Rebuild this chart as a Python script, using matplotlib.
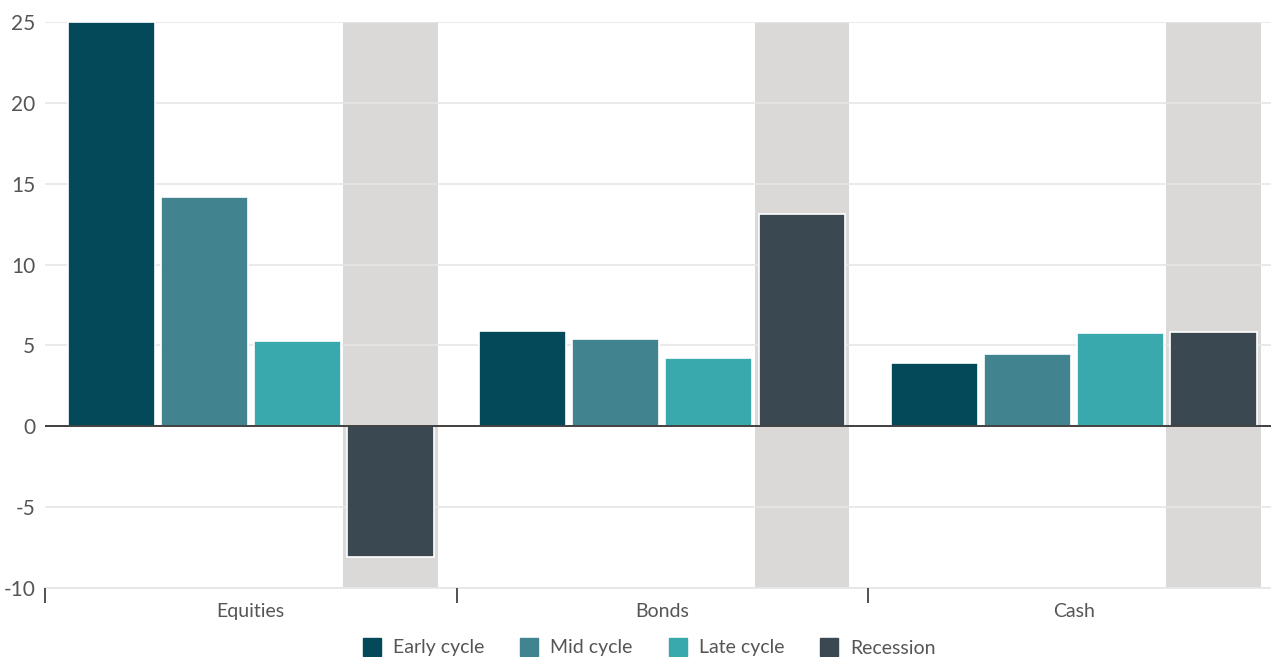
import matplotlib.pyplot as plt
import numpy as np
from matplotlib.lines import Line2D

# returns by asset class across cycle phases (%)
categories = ["Equities", "Bonds", "Cash"]
phases = ["Early cycle", "Mid cycle", "Late cycle", "Recession"]
early = [25.0, 5.9, 3.9]
mid = [14.2, 5.4, 4.5]
late = [5.3, 4.2, 5.75]
recession = [-8.1, 13.1, 5.8]
yticks = [-10, -5, 0, 5, 10, 15, 20, 25]

colors = ["#03495A", "#41838F", "#3AA9AD", "#3A4852"]
band_color = "#DAD9D7"
text_color = "#555555"

plt.rcParams["font.family"] = ["Lato", "DejaVu Sans"]

fig = plt.figure(figsize=(12.71, 6.57), dpi=100)
ax = fig.add_axes([45 / 1271, 69 / 657, 1226 / 1271, 566 / 657])

x = np.arange(len(categories))
step = 0.2262
width = 0.211
series = [early, mid, late, recession]

# grey band behind recession bars
for xi in x:
    ax.axvspan(xi + 1.5 * step - 0.115, xi + 1.5 * step + 0.115, color=band_color, zorder=0, lw=0)

for i, (vals, c) in enumerate(zip(series, colors)):
    ax.bar(x + (i - 1.5) * step, vals, width, color=c, edgecolor="white", linewidth=1.2, zorder=3, label=phases[i])

ax.set_ylim(-10, 25)
ax.set_xlim(-0.5, 2.479)
ax.set_yticks(yticks)
ax.set_yticklabels([str(t) for t in yticks], fontsize=15, color=text_color)
ax.yaxis.grid(True, color="#E6E6E6", linewidth=1.2, zorder=1)
ax.set_axisbelow(False)
ax.tick_params(axis="y", length=0, pad=7)
for gl in ax.get_ygridlines():
    gl.set_zorder(1)

ax.axhline(0, color="#333333", linewidth=1.3, zorder=4)

# category ticks at boundaries, labels at centres
ax.set_xticks([-0.5, 0.5, 1.5])
ax.set_xticklabels([])
ax.set_xticks(x, minor=True)
ax.set_xticklabels(categories, minor=True, fontsize=14, color=text_color)
ax.tick_params(axis="x", which="major", length=11, width=1.2, color="#333333")
ax.tick_params(axis="x", which="minor", length=0, pad=11)

for s in ["top", "right", "left"]:
    ax.spines[s].set_visible(False)
ax.spines["bottom"].set_color("#E6E6E6")
ax.spines["bottom"].set_linewidth(1.2)

handles = [Line2D([], [], marker="s", linestyle="", markersize=13, color=c) for c in colors]
fig.legend(handles, phases, loc="center", bbox_to_anchor=(649 / 1271, 1 - 648 / 657), ncol=4,
           frameon=False, fontsize=14, labelcolor=text_color, handlelength=1.0,
           handletextpad=0.6, columnspacing=1.8)

fig.savefig("out.png", dpi=100)
